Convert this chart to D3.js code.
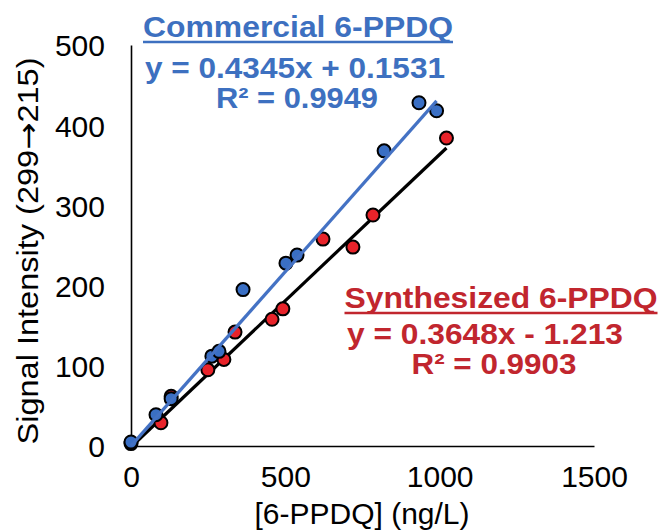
<!DOCTYPE html>
<html>
<head>
<meta charset="utf-8">
<script src="https://cdn.jsdelivr.net/npm/d3@7"></script>
<style>
  body { margin: 0; background: #fff; }
  text { font-family: "Liberation Sans", Arial, Helvetica, sans-serif; }
</style>
</head>
<body>
<div id="chart"></div>
<script>
// commercial 6-PPDQ (blue)
var commercialX = [0, 81, 130, 262, 285, 363, 502, 538, 820, 933, 990];
var commercialY = [5, 39, 59, 112, 118, 195, 228, 238, 368, 428, 418];
// synthesized 6-PPDQ (red)
var synthX = [0, 97, 130, 249, 301, 337, 457, 492, 622, 719, 784, 1022];
var synthY = [3, 29, 62, 95, 108, 142, 158, 171, 258, 248, 288, 384];

var commercialFit = { slope: 0.4345, intercept: 0.1531 };
var synthFit = { slope: 0.3648, intercept: -1.213 };

var xTicks = [0, 500, 1000, 1500];
var yTicks = [0, 100, 200, 300, 400, 500];

var blueText = "#3d70c0", blueDot = "#3a6fc4", blueLine = "#4472c4";
var redText = "#c1262e", redDot = "#e8232a";

var width = 660, height = 531;
var svg = d3.select("#chart").append("svg")
    .attr("width", width)
    .attr("height", height);

var x = d3.scaleLinear().domain([0, 1500]).range([131, 594]);
var y = d3.scaleLinear().domain([0, 500]).range([446, 45]);

// axes
var xAxis = svg.append("g")
    .attr("transform", "translate(0," + y(0) + ")")
    .call(d3.axisBottom(x).tickValues(xTicks).tickFormat(d3.format("d")).tickSize(0).tickPadding(0));
xAxis.select(".domain").attr("stroke", "#000").attr("stroke-width", 1.6);
xAxis.selectAll("text")
    .attr("font-size", 30)
    .attr("fill", "#000")
    .attr("dy", null)
    .attr("y", 41);

var yAxis = svg.append("g")
    .attr("transform", "translate(" + x(0) + ",0)")
    .call(d3.axisLeft(y).tickValues(yTicks).tickFormat(d3.format("d")).tickSize(0).tickPadding(26));
yAxis.select(".domain").attr("stroke", "#000").attr("stroke-width", 1.6);
yAxis.selectAll("text")
    .attr("font-size", 30)
    .attr("fill", "#000")
    .attr("dy", "0.36em");

// axis titles
svg.append("text")
    .attr("x", 362)
    .attr("y", 524)
    .attr("text-anchor", "middle")
    .attr("font-size", 30)
    .text("[6-PPDQ] (ng/L)");

var yTitle = svg.append("text")
    .attr("transform", "translate(38,251) rotate(-90)")
    .attr("text-anchor", "middle")
    .attr("font-size", 29)
    .attr("textLength", 387)
    .attr("lengthAdjust", "spacingAndGlyphs");
yTitle.append("tspan").text("Signal Intensity (299");
yTitle.append("tspan").attr("font-family", "DejaVu Sans").text("\u2192");
yTitle.append("tspan").text("215)");

// trendlines
function fitLine(fit, xs) {
    var ext = d3.extent(xs);
    return ext.map(function (v) { return [v, fit.slope * v + fit.intercept]; });
}
var line = d3.line()
    .x(function (d) { return x(d[0]); })
    .y(function (d) { return y(d[1]); });

svg.append("path")
    .datum(fitLine(synthFit, synthX))
    .attr("d", line)
    .attr("fill", "none")
    .attr("stroke", "#000")
    .attr("stroke-width", 3.2);

// red dots drawn first, blue dots on top
svg.append("g").selectAll("circle")
    .data(d3.zip(synthX, synthY))
    .enter()
    .append("circle")
    .attr("cx", function (d) { return x(d[0]); })
    .attr("cy", function (d) { return y(d[1]); })
    .attr("r", 6.5)
    .attr("fill", redDot)
    .attr("stroke", "#000")
    .attr("stroke-width", 2);

svg.append("g").selectAll("circle")
    .data(d3.zip(commercialX, commercialY))
    .enter()
    .append("circle")
    .attr("cx", function (d) { return x(d[0]); })
    .attr("cy", function (d) { return y(d[1]); })
    .attr("r", 6.5)
    .attr("fill", blueDot)
    .attr("stroke", "#000")
    .attr("stroke-width", 2);

svg.append("path")
    .datum(fitLine(commercialFit, commercialX))
    .attr("d", line)
    .attr("fill", "none")
    .attr("stroke", blueLine)
    .attr("stroke-width", 3.2);

// equation labels
function addLabel(lines, color) {
    var g = svg.append("g").attr("fill", color);
    lines.forEach(function (l) {
        g.append("text")
            .attr("x", l.cx)
            .attr("y", l.y)
            .attr("text-anchor", "middle")
            .attr("font-size", 29)
            .attr("font-weight", "bold")
            .attr("textLength", l.w)
            .attr("lengthAdjust", "spacingAndGlyphs")
            .text(l.text);
        if (l.underline)
            g.append("line")
                .attr("x1", l.cx - l.w / 2)
                .attr("x2", l.cx + l.w / 2)
                .attr("y1", l.y + 5)
                .attr("y2", l.y + 5)
                .attr("stroke", color)
                .attr("stroke-width", 2.5);
    });
}

addLabel([
    { text: "Commercial 6-PPDQ", cx: 298, y: 37, w: 310, underline: true },
    { text: "y = " + commercialFit.slope + "x + " + commercialFit.intercept, cx: 295, y: 78, w: 300 },
    { text: "R\u00b2 = 0.9949", cx: 297, y: 108, w: 162 }
], blueText);

addLabel([
    { text: "Synthesized 6-PPDQ", cx: 501, y: 308, w: 313, underline: true },
    { text: "y = " + synthFit.slope + "x - " + Math.abs(synthFit.intercept), cx: 485, y: 344, w: 276 },
    { text: "R\u00b2 = 0.9903", cx: 494, y: 374, w: 165 }
], redText);
</script>
</body>
</html>
